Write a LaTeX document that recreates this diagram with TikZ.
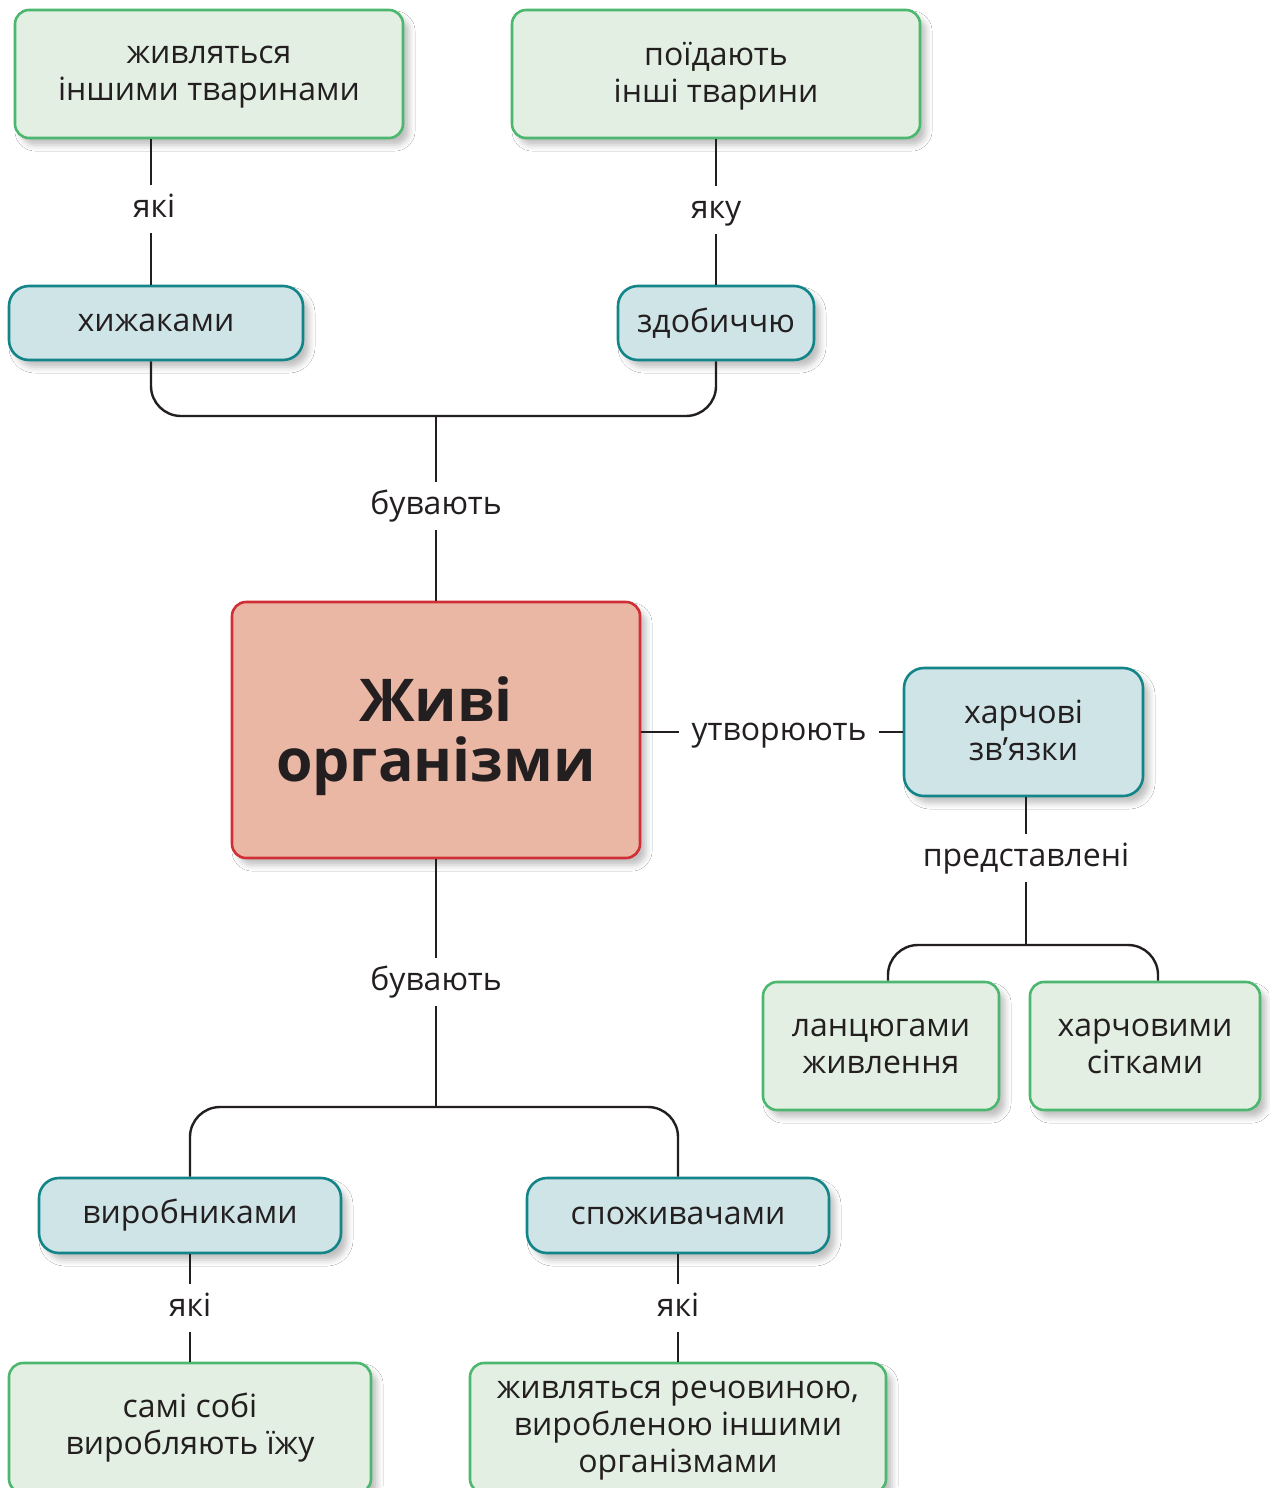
\documentclass[tikz,border=0pt]{standalone}
\usepackage{fontspec}
\setmainfont{Open Sans}
\usetikzlibrary{shadows.blur}
\definecolor{gfill}{HTML}{E2EFE2}
\definecolor{gdraw}{HTML}{4CB86F}
\definecolor{tfill}{HTML}{CFE4E6}
\definecolor{tdraw}{HTML}{138589}
\definecolor{rfill}{HTML}{EAB7A4}
\definecolor{rdraw}{HTML}{D12F36}
\definecolor{ink}{HTML}{231F20}
\newcommand{\fsnorm}{\fontsize{32}{37}\selectfont}
\newcommand{\fsbig}{\fontsize{59}{60}\selectfont\bfseries}
\newcommand{\lowered}[3]{\raisebox{-#1}[\height][\depth]{\parbox{#2}{\centering #3}}}
\begin{document}
\begin{tikzpicture}[x=1pt,y=-1pt,
  box/.style={rectangle, rounded corners=14pt, line width=2.6pt, align=center,
    font=\fsnorm, text=ink, inner sep=0pt,
    blur shadow={shadow xshift=6pt, shadow yshift=-7pt, shadow blur radius=6pt, shadow opacity=25}},
  gbox/.style={box, draw=gdraw, fill=gfill},
  tbox/.style={box, draw=tdraw, fill=tfill, rounded corners=20pt},
  rbox/.style={box, draw=rdraw, fill=rfill, font=\fsbig},
  lbl/.style={font=\fsnorm, text=ink, inner xsep=12pt, inner ysep=9pt, text height=23pt, text depth=7pt},
  conn/.style={line width=2.4pt, draw=ink}
]
\useasboundingbox (0,0) rectangle (1269,1488);
\fill[white] (0,0) rectangle (1269,1488);

% boxes
\node[gbox, minimum width=388pt, minimum height=128pt] (b1) at (209,74) {\lowered{3pt}{380pt}{живляться\\іншими тваринами}};
\node[gbox, minimum width=408pt, minimum height=128pt] (b2) at (716,74) {\lowered{2pt}{400pt}{поїдають\\інші тварини}};
\node[tbox, minimum width=294pt, minimum height=74pt] (b3) at (156,323) {хижаками};
\node[tbox, minimum width=196pt, minimum height=74pt] (b4) at (716,323) {здобиччю};
\node[rbox, minimum width=408pt, minimum height=256pt] (c) at (436,730) {\lowered{6pt}{400pt}{Живі\\організми}};
\node[tbox, minimum width=239pt, minimum height=128pt] (b6) at (1023.5,732) {\lowered{-2pt}{230pt}{харчові\\зв’язки}};
\node[gbox, minimum width=236pt, minimum height=128pt] (b7) at (881,1046) {ланцюгами\\живлення};
\node[gbox, minimum width=230pt, minimum height=128pt] (b8) at (1145,1046) {харчовими\\сітками};
\node[tbox, minimum width=302pt, minimum height=75pt] (b9) at (190,1215.5) {виробниками};
\node[tbox, minimum width=302pt, minimum height=75pt] (b10) at (678,1215.5) {споживачами};
\node[gbox, minimum width=362pt, minimum height=130pt] (b11) at (190,1428) {самі собі\\виробляють їжу};
\node[gbox, minimum width=416pt, minimum height=130pt] (b12) at (678,1428) {\lowered{3pt}{410pt}{живляться речовиною,\\виробленою іншими\\організмами}};

% labels
\node[lbl] (l1) at (154,209) {які};
\node[lbl] (l2) at (716,210) {яку};
\node[lbl] (bu1) at (436,506) {бувають};
\node[lbl] (bu2) at (436,982) {бувають};
\node[lbl] (l3) at (190,1308) {які};
\node[lbl] (l4) at (678,1308) {які};
\node[lbl] (ut) at (779,732) {утворюють};
\node[lbl] (pr) at (1026,858) {представлені};

\coordinate (j1) at (436,416);
\coordinate (j2) at (436,1107);
\coordinate (j3) at (1026,945);

% connectors
\draw[conn] ([xshift=-3pt]l1.north |- b1.south) -- ([xshift=-3pt]l1.north);
\draw[conn] ([xshift=-3pt]l1.south) -- ([xshift=-3pt]l1.south |- b3.north);
\draw[conn] (b2.south) -- (l2.north);
\draw[conn] (l2.south) -- (b4.north);
\draw[conn, rounded corners=30pt] ([xshift=-3pt]l1.south |- b3.south) |- (j1) -| (b4.south);
\draw[conn] (j1) -- (bu1.north);
\draw[conn] (bu1.south) -- (c.north);
\draw[conn] (c.south) -- (bu2.north);
\draw[conn] (bu2.south) -- (j2);
\draw[conn, rounded corners=30pt] (b9.north) |- (j2) -| (b10.north);
\draw[conn] (b9.south) -- (l3.north);
\draw[conn] (l3.south) -- (b11.north);
\draw[conn] (b10.south) -- (l4.north);
\draw[conn] (l4.south) -- (b12.north);
\draw[conn] (ut.west -| c.east) -- (ut.west);
\draw[conn] (ut.east) -- (ut.east -| b6.west);
\draw[conn] (pr.north |- b6.south) -- (pr.north);
\draw[conn] (pr.south) -- (j3);
\draw[conn, rounded corners=30pt] ([xshift=7pt]b7.north) |- (j3) -| ([xshift=13pt]b8.north);
\end{tikzpicture}
\end{document}
